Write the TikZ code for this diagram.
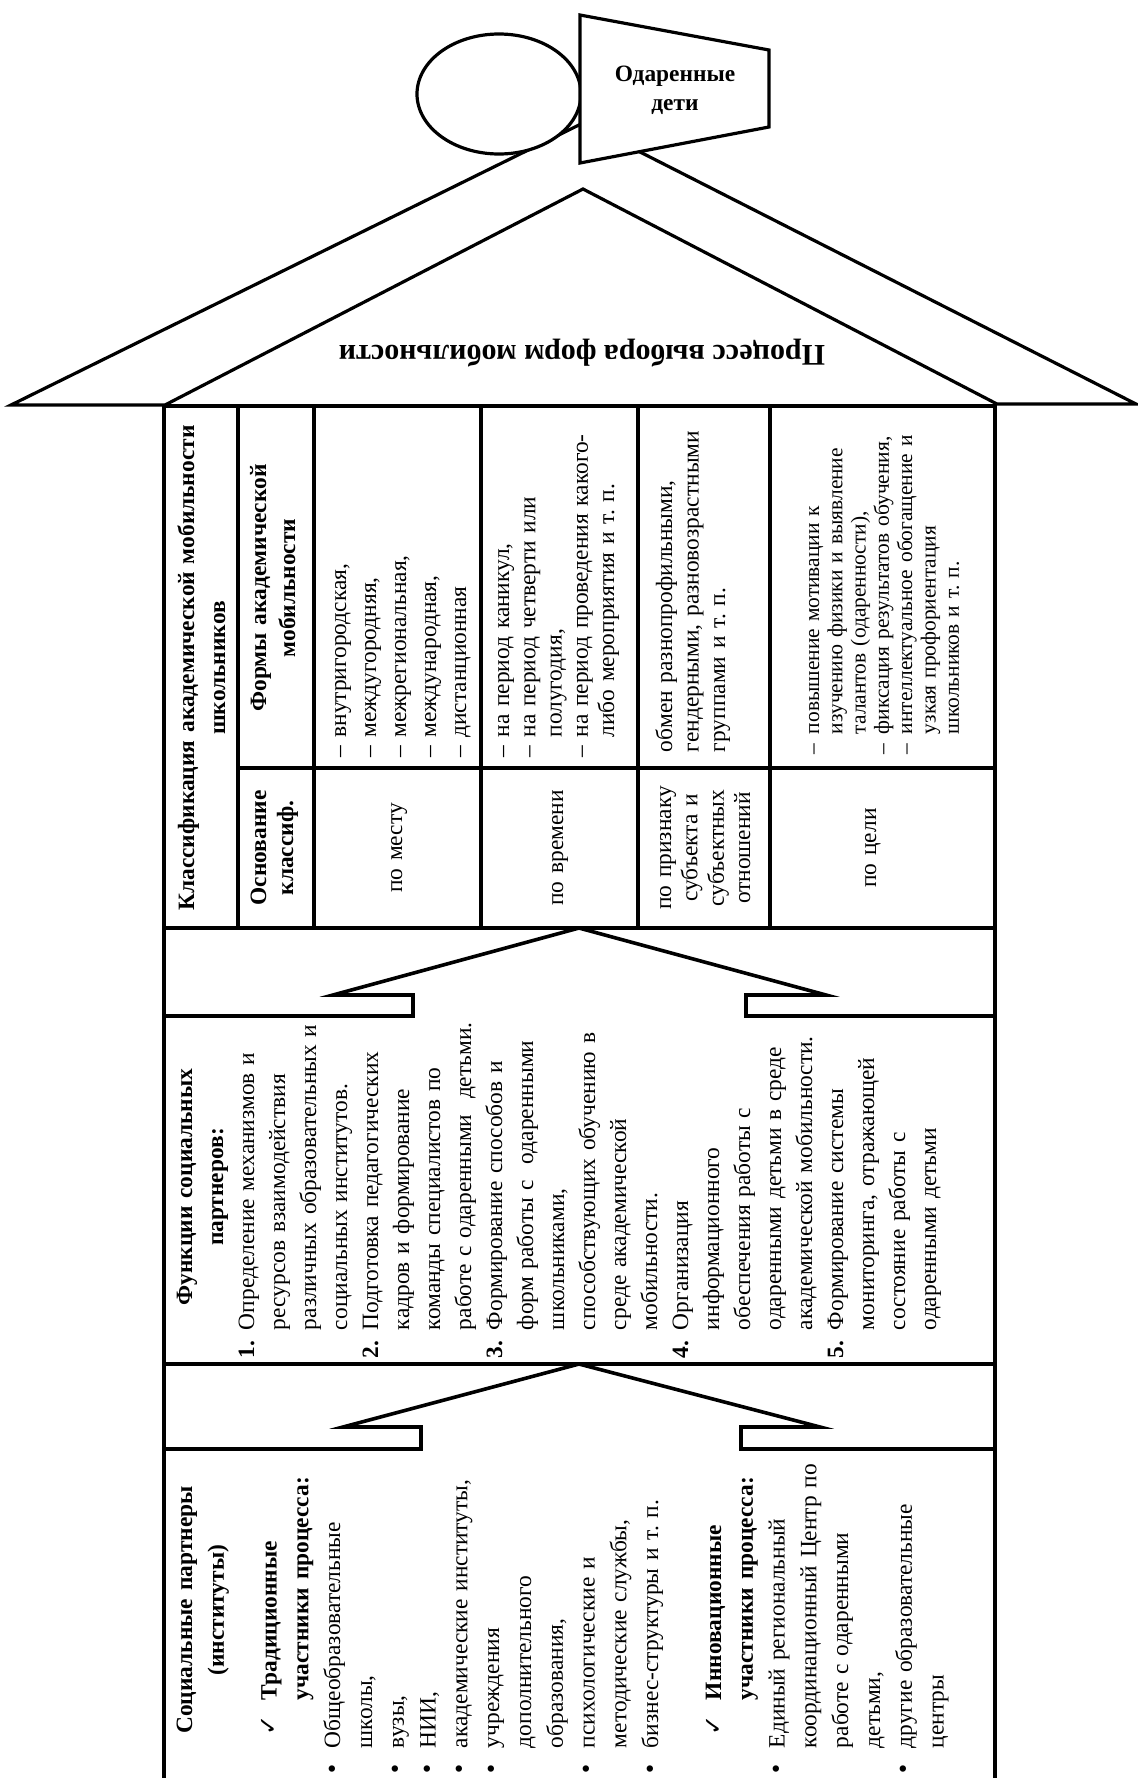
\documentclass[tikz,border=0pt]{standalone}
\usepackage{fontspec}
\setmainfont{Liberation Serif}
\newfontfamily\chkfont{DejaVu Sans}
\newcommand\numit[1]{\makebox[14pt][l]{\textbf{#1}}}
\newcommand\numind{\hspace*{14pt}}
\newcommand\bul{\makebox[13.5pt][l]{\chkfont\fontsize{11}{12}\selectfont •}}
\newcommand\bulind{\hspace*{13.5pt}}
\newcommand\dshind{\hphantom{–\ }}
\newcommand\dshw{\makebox[10pt][l]{–}}
\newcommand\dshwind{\hspace*{10pt}}
\newcommand\chk{\hspace*{20pt}\makebox[17.5pt][l]{\chkfont\fontsize{12}{14}\selectfont ✓}}
\newcommand\chkind{\hspace*{37.5pt}}
\begin{document}
\begin{tikzpicture}[x=0.5pt,y=-0.5pt,
  roofline/.style={line width=1.6pt, line join=miter},
  frame/.style={line width=2pt},
  rule/.style={line width=1.8pt, line join=miter},
  lbl/.style={inner sep=0pt, outer sep=0pt, font=\fontsize{11.7}{#1}\selectfont},
  lbl/.default=15pt,
  vert/.style={rotate=90}]
\useasboundingbox (0,0) rectangle (1138,1778);
% roof
\draw[roofline] (11,405) -- (583,123) -- (1136,404) -- (997,404) -- (583,189) -- (165,405) -- cycle;
% head
\draw[roofline, fill=white] (499,94) ellipse [x radius=82, y radius=60];
\draw[roofline, fill=white] (580,15) -- (769,50) -- (769,127) -- (580,163) -- cycle;
\node[lbl=14.5pt, anchor=base, text width=90pt, align=center] (kids) at (675,81) {\bfseries Одаренные\\ дети};
\node[inner sep=0pt, rotate=180, font=\fontsize{15}{18}\selectfont\bfseries] (roof) at (582,353) {Процесс выбора форм мобильности};
% body frame
\draw[frame] (164,1778) -- (164,406) -- (995,406) -- (995,1778);
% table
\draw[rule] (164,928) -- (995,928);
\foreach \xx in {238,314,481,638,770} \draw[rule] (\xx,406) -- (\xx,928);
\draw[rule] (238,768) -- (995,768);
% arrow 1 and functions box
\draw[rule] (164,1016) -- (413,1016) -- (413,995) -- (333,995) -- (579,928) -- (826,995) -- (746,995) -- (746,1016) -- (995,1016);
\draw[rule] (164,1364) -- (995,1364);
% arrow 2 and partners box
\draw[rule] (164,1449) -- (421,1449) -- (421,1427) -- (343,1427) -- (579,1364) -- (820,1427) -- (741,1427) -- (741,1449) -- (995,1449);

% table texts
\node[lbl=15.5pt, vert, anchor=base, text width=255pt, align=center] (ttl) at (194,668) {\bfseries Классификация академической мобильности\\ школьников};
\node[lbl=13.5pt, vert, anchor=base, text width=78pt, align=center] (hdra) at (266,848) {\bfseries Основание\\ классиф.};
\node[lbl=14.5pt, vert, anchor=base, text width=170pt, align=center] (hdrb) at (266,588) {\bfseries Формы академической\\ мобильности};
\node[lbl, vert, anchor=base, text width=78pt, align=center] (r1a) at (402,848) {по месту};
\node[lbl, vert, anchor=base, text width=78pt, align=center] (r2a) at (563,848) {по времени};
\node[lbl=13.2pt, vert, anchor=base, text width=78pt, align=center] (r3a) at (671,848) {по признаку\\ субъекта и\\ субъектных\\ отношений};
\node[lbl, vert, anchor=base, text width=78pt, align=center] (r4a) at (876,848) {по цели};

\node[lbl=15pt, vert, anchor=base west, text width=178pt, align=left] (r1b) at (346,757) {%
– внутригородская,\\
– междугородняя,\\
– межрегиональная,\\
– международная,\\
– дистанционная};
\node[lbl=13.15pt, vert, anchor=base west, text width=178pt, align=left] (r2b) at (509,757) {%
– на период каникул,\\
– на период четверти или\\
\dshind полугодия,\\
– на период проведения какого-\\
\dshind либо мероприятия и т.~п.};
\node[lbl=13.25pt, vert, anchor=base west, text width=178pt, align=left] (r3b) at (672,752) {%
обмен разнопрофильными,\\
гендерными, разновозрастными\\
группами и т.~п.};
\node[inner sep=0pt, outer sep=0pt, font=\fontsize{10.7}{11.65}\selectfont, vert, anchor=base west, text width=178pt, align=left] (r4b) at (819,754) {%
\dshw повышение мотивации к\\
\dshwind изучению физики и выявление\\
\dshwind талантов (одаренности),\\
\dshw фиксация результатов обучения,\\
\dshw интеллектуальное обогащение и\\
\dshwind узкая профориентация\\
\dshwind школьников и т.~п.};

% functions
\node[lbl=15.5pt, vert, anchor=base west, text width=171pt, align=left] (func) at (192,1358) {%
{\centering\bfseries Функции социальных\\ партнеров:\par}
\numit{1.}Определение механизмов и\\
\numind ресурсов взаимодействия\\
\numind различных образовательных и\\
\numind социальных институтов.\\
\numit{2.}Подготовка педагогических\\
\numind кадров и формирование\\
\numind команды специалистов по\\
\numind работе с одаренными\ \ детьми.\\
\numit{3.}Формирование способов и\\
\numind форм работы с\ \ одаренными\\
\numind школьниками,\\
\numind способствующих обучению в\\
\numind среде академической\\
\numind мобильности.\\
\numit{4.}Организация\\
\numind информационного\\
\numind обеспечения работы с\\
\numind одаренными детьми в среде\\
\numind академической мобильности.\\
\numit{5.}Формирование системы\\
\numind мониторинга, отражающей\\
\numind состояние работы с\\
\numind одаренными детьми};

% partners
\node[lbl=15.9pt, vert, anchor=base west, text width=165pt, align=left] (partners) at (192,1775) {%
{\centering\bfseries Социальные партнеры\\ (институты)\par}
\vspace{10.5pt}
\chk\textbf{Традиционные}\\
\chkind\textbf{участники процесса:}\\
\bul Общеобразовательные\\
\bulind школы,\\
\bul вузы,\\
\bul НИИ,\\
\bul академические институты,\\
\bul учреждения\\
\bulind дополнительного\\
\bulind образования,\\
\bul психологические и\\
\bulind методические службы,\\
\bul бизнес-структуры и т.~п.\\[15.5pt]
\chk\textbf{Инновационные}\\
\chkind\textbf{участники процесса:}\\
\bul Единый региональный\\
\bulind координационный Центр по\\
\bulind работе с одаренными\\
\bulind детьми,\\
\bul другие образовательные\\
\bulind центры};
\end{tikzpicture}
\end{document}
